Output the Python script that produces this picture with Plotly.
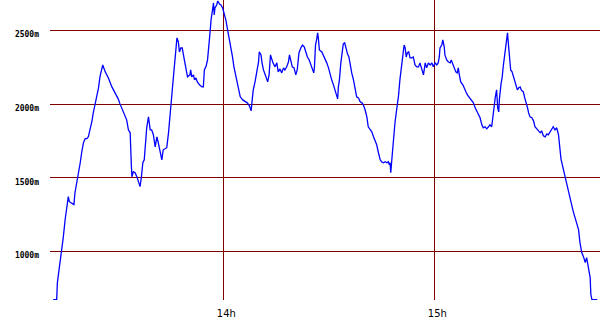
import plotly.graph_objects as go

# Elapsed time, minutes after 13:00
minutes_after_13h = [
    11.6, 12.6, 12.8, 13.4, 14.1, 14.5, 15.0, 15.5, 15.9, 16.2,
    16.9, 17.5, 17.8, 18.3, 18.8, 19.3, 19.7, 20.2, 20.7, 21.2,
    21.6, 22.1, 22.6, 23.0, 23.5, 24.0, 24.5, 24.9, 25.4, 25.7,
    26.4, 27.3, 28.3, 29.2, 30.1, 30.6, 31.1, 31.8, 32.5, 33.0,
    33.5, 33.8, 34.0, 34.4, 34.9, 35.5, 36.1, 36.3, 36.7, 37.1,
    37.5, 37.8, 38.2, 38.7, 39.2, 39.6, 40.1, 40.6, 41.1, 41.5,
    42.0, 42.5, 42.9, 43.9, 44.4, 44.8, 45.3, 45.8, 46.3, 46.6,
    46.8, 47.2, 47.5, 47.9, 48.3, 48.8, 49.4, 49.8, 50.5, 50.7,
    51.0, 51.5, 51.8, 52.2, 52.6, 53.2, 53.9, 54.3, 54.6, 55.1,
    55.5, 55.9, 56.2, 56.5, 56.9, 57.2, 57.4, 57.6, 58.1, 58.4,
    58.9, 59.3, 59.8, 60.2, 60.7, 61.1, 61.6, 62.1, 62.6, 63.0,
    63.6, 64.1, 64.8, 65.5, 66.2, 66.8, 67.4, 67.9, 68.2, 68.5,
    69.0, 69.5, 70.0, 70.2, 70.7, 71.0, 71.4, 71.9, 72.3, 72.6,
    73.0, 73.4, 74.1, 74.5, 74.7, 75.2, 75.6, 76.1, 76.6, 77.1,
    77.5, 78.0, 78.5, 78.8, 79.2, 79.6, 80.1, 80.6, 81.0, 81.5,
    82.0, 82.5, 83.0, 83.4, 83.9, 84.4, 84.9, 85.3, 85.7, 85.9,
    86.2, 86.6, 86.8, 87.0, 87.3, 88.0, 88.4, 88.9, 89.4, 89.9,
    90.3, 90.8, 91.3, 91.8, 92.3, 92.5, 92.7, 93.0, 93.4, 93.8,
    94.1, 94.5, 94.9, 95.3, 95.7, 96.0, 96.5, 97.0, 97.5, 97.9,
    98.4, 98.9, 99.4, 99.8, 100.3, 100.8, 101.2, 101.7, 102.2, 102.7,
    103.1, 103.6, 104.1, 104.6, 105.0, 105.5, 106.0, 106.5, 106.9, 107.2,
    107.4, 107.6, 107.9, 108.3, 108.8, 109.3, 109.8, 110.2, 110.7, 111.0,
    111.4, 111.7, 112.0, 112.3, 112.7, 113.1, 113.6, 114.0, 114.5, 115.0,
    115.5, 115.9, 116.4, 116.9, 117.4, 117.8, 118.3, 118.8, 119.3, 119.7,
    120.2, 120.7, 121.1, 121.4, 121.6, 122.1, 122.4, 122.8, 123.0, 123.5,
    124.0, 124.5, 124.8, 125.1, 125.6, 126.1, 126.5, 126.8, 127.1, 127.5,
    128.1, 128.4, 129.0, 129.4, 130.0, 130.6, 131.1, 131.6, 132.1, 132.5,
    133.0, 133.5, 133.9, 134.4, 134.9, 135.4, 135.8, 136.3, 136.6, 137.0,
    137.3, 137.7, 138.0, 138.3, 138.5, 139.0, 139.3, 139.6, 140.0, 140.4,
    140.8, 141.0, 141.3, 141.7, 142.1, 142.5, 142.9, 143.2, 143.6, 144.0,
    144.4, 144.7, 145.3, 145.7, 146.1, 146.5, 146.8, 147.2, 147.7, 148.2,
    148.6, 149.1, 149.6, 150.1, 150.5, 151.0, 151.5, 152.0, 152.4, 152.9,
    153.4, 153.8, 154.3, 154.8, 155.3, 155.6, 156.0, 156.7, 157.2, 157.7,
    158.1, 158.6, 159.1, 159.5, 160.0, 160.5, 161.0, 161.4, 161.9, 162.4,
    162.9, 163.3, 163.6, 163.9, 164.3, 164.5, 164.8, 166.3,
]

# Altitude in metres
altitude_m = [
    675, 675, 790, 898, 1000, 1101, 1216, 1318, 1372, 1338,
    1325, 1318, 1399, 1467, 1507, 1602, 1670, 1737, 1765, 1765,
    1778, 1825, 1880, 1940, 1995, 2049, 2110, 2184, 2252, 2265,
    2218, 2177, 2116, 2076, 2035, 2001, 1974, 1927, 1893, 1825,
    1805, 1602, 1507, 1541, 1534, 1501, 1453, 1440, 1507, 1602,
    1622, 1710, 1839, 1913, 1825, 1825, 1792, 1710, 1778, 1737,
    1670, 1622, 1690, 1704, 1805, 1940, 2049, 2184, 2299, 2367,
    2448, 2421, 2353, 2380, 2380, 2313, 2231, 2184, 2198, 2231,
    2184, 2198, 2164, 2177, 2150, 2130, 2116, 2116, 2231, 2258,
    2299, 2387, 2482, 2570, 2658, 2685, 2604, 2651, 2671, 2698,
    2678, 2671, 2651, 2617, 2570, 2516, 2455, 2387, 2319, 2252,
    2184, 2116, 2049, 2028, 2015, 2008, 1988, 1954, 2028, 2096,
    2150, 2218, 2285, 2353, 2333, 2279, 2231, 2198, 2177, 2150,
    2198, 2333, 2279, 2265, 2252, 2279, 2218, 2238, 2211, 2245,
    2231, 2252, 2285, 2333, 2299, 2252, 2245, 2198, 2231, 2346,
    2380, 2400, 2387, 2353, 2319, 2299, 2265, 2231, 2211, 2252,
    2400, 2448, 2482, 2448, 2367, 2353, 2333, 2306, 2279, 2245,
    2198, 2164, 2130, 2096, 2062, 2035, 2116, 2164, 2279, 2353,
    2407, 2414, 2367, 2340, 2319, 2265, 2211, 2164, 2110, 2049,
    2042, 2015, 2008, 1995, 1961, 1913, 1846, 1825, 1812, 1778,
    1758, 1724, 1670, 1622, 1609, 1602, 1609, 1602, 1609, 1589,
    1602, 1534, 1622, 1744, 1873, 1967, 2055, 2164, 2279, 2353,
    2400, 2380, 2319, 2346, 2353, 2313, 2313, 2319, 2265, 2252,
    2252, 2279, 2245, 2198, 2279, 2245, 2279, 2265, 2279, 2252,
    2279, 2265, 2279, 2319, 2380, 2400, 2434, 2387, 2333, 2299,
    2285, 2279, 2299, 2279, 2245, 2218, 2211, 2245, 2198, 2150,
    2130, 2110, 2082, 2062, 2042, 2028, 2008, 1974, 1947, 1927,
    1907, 1859, 1839, 1846, 1832, 1846, 1859, 1846, 1913, 1988,
    2042, 2096, 1974, 1947, 2035, 2143, 2184, 2258, 2340, 2400,
    2482, 2421, 2319, 2231, 2218, 2184, 2150, 2116, 2096, 2110,
    2116, 2096, 2082, 2042, 2015, 1974, 1940, 1913, 1907, 1886,
    1846, 1832, 1812, 1805, 1819, 1785, 1778, 1798, 1792, 1812,
    1832, 1846, 1825, 1839, 1792, 1710, 1629, 1555, 1501, 1453,
    1406, 1352, 1318, 1271, 1230, 1196, 1149, 1061, 993, 966,
    926, 959, 912, 865, 824, 709, 675, 675,
]

x_tick_values = [60, 120]
x_tick_labels = ["14h", "15h"]
y_tick_values = [1000, 1500, 2000, 2500]
y_tick_labels = ["1000m", "1500m", "2000m", "2500m"]

grid_color = "#800000"

fig = go.Figure(
    go.Scatter(
        x=minutes_after_13h,
        y=altitude_m,
        mode="lines",
        line=dict(color="#0000ff", width=1.3),
        hoverinfo="skip",
    )
)

fig.update_layout(
    width=600,
    height=330,
    margin=dict(l=50, r=0, t=0, b=30),
    paper_bgcolor="white",
    plot_bgcolor="white",
    showlegend=False,
)

fig.update_xaxes(
    range=[10.7, 167.1],
    tickvals=x_tick_values,
    ticktext=x_tick_labels,
    showgrid=True,
    gridcolor=grid_color,
    gridwidth=1,
    zeroline=False,
    showline=False,
    ticks="",
    ticklabelstandoff=6,
    ticklabelshift=3,
    tickfont=dict(family="DejaVu Sans", size=10, color="black"),
)

fig.update_yaxes(
    range=[672, 2705],
    tickvals=y_tick_values,
    ticktext=y_tick_labels,
    showgrid=True,
    gridcolor=grid_color,
    gridwidth=1,
    zeroline=False,
    showline=False,
    ticks="",
    ticklabelstandoff=10,
    ticklabelshift=4,
    tickfont=dict(family="DejaVu Sans Mono", size=8, color="black", weight="bold"),
)

fig.write_html("out.html")
